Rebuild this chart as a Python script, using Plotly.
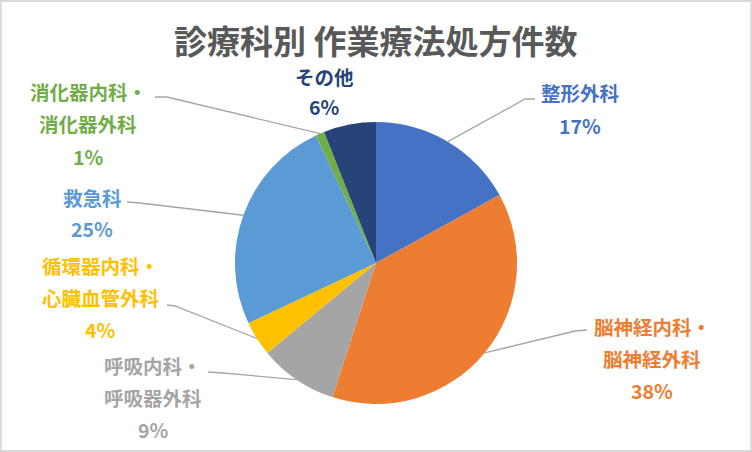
import math
import plotly.graph_objects as go

# ---- data ----
categories = ["整形外科", "脳神経内科・脳神経外科", "呼吸内科・呼吸器外科",
              "循環器内科・心臓血管外科", "救急科", "消化器内科・消化器外科", "その他"]
label_lines = [["整形外科"], ["脳神経内科・", "脳神経外科"], ["呼吸内科・", "呼吸器外科"],
               ["循環器内科・", "心臓血管外科"], ["救急科"], ["消化器内科・", "消化器外科"], ["その他"]]
percent_values = [17, 38, 9, 4, 25, 1, 6]
colors = ["#4472C4", "#ED7D31", "#A5A5A5", "#FFC000", "#5B9BD5", "#70AD47", "#264478"]
title_text = "診療科別 作業療法処方件数"

# ---- layout constants (pixels) ----
W, H = 752, 452
CX, CY, R = 376, 263, 141
FONT = "Noto Sans CJK JP"
LABEL_SIZE = 19.5
LINE_GAP = 32
# label block: centre x, y of first line
label_pos = [(580, 93), (652, 326), (153, 365), (100, 265), (92, 197), (88, 92), (324, 76)]
# per-label line gap override
line_gap = [LINE_GAP, LINE_GAP, LINE_GAP, LINE_GAP, LINE_GAP, LINE_GAP, 30]
# leader line start points near labels (None = no leader line)
leader_start = [[(535, 99), (525, 99)],
                [(587, 330), (575, 331)],
                [(208, 372), (223, 373)],
                [(167, 305), (175, 306)],
                [(127, 202), (140, 203)],
                [(155, 97), (167, 97)],
                None]


def px(x):
    return x / W


def py(y):
    return 1 - y / H


fig = go.Figure(go.Pie(
    labels=categories,
    values=percent_values,
    sort=False,
    direction="clockwise",
    rotation=0,
    marker=dict(colors=colors, line=dict(width=0)),
    textinfo="none",
    hoverinfo="label+percent",
    showlegend=False,
    domain=dict(x=[px(CX - R), px(CX + R)], y=[py(CY + R), py(CY - R)]),
))

total = sum(percent_values)
cum = 0
annotations = []
shapes = []
for i, v in enumerate(percent_values):
    mid = (cum + v / 2) / total * 2 * math.pi
    cum += v
    ex = CX + R * math.sin(mid)
    ey = CY - R * math.cos(mid)
    lx, ly = label_pos[i]
    lines = label_lines[i] + [f"{round(v / total * 100)}%"]
    for k, t in enumerate(lines):
        annotations.append(dict(
            x=px(lx), y=py(ly + k * line_gap[i]), xref="paper", yref="paper",
            text=f"<b>{t}</b>", showarrow=False, xanchor="center", yanchor="middle",
            font=dict(family=FONT, size=LABEL_SIZE, color=colors[i]),
        ))
    if leader_start[i]:
        pts = leader_start[i] + [(ex, ey)]
        path = "M " + " L ".join(f"{px(a):.5f},{py(b):.5f}" for a, b in pts)
        shapes.append(dict(type="path", path=path, xref="paper", yref="paper",
                           line=dict(color="#A6A6A6", width=1.3)))

annotations.append(dict(
    x=0.5, y=py(40), xref="paper", yref="paper", text=f"<b>{title_text}</b>",
    showarrow=False, xanchor="center", yanchor="middle",
    font=dict(family=FONT, size=33, color="#595959"),
))
shapes.append(dict(type="rect", xref="paper", yref="paper", x0=0.001, y0=0.002, x1=0.999, y1=0.998,
                   line=dict(color="#D9D9D9", width=2)))

fig.update_layout(
    width=W, height=H,
    margin=dict(l=0, r=0, t=0, b=0),
    paper_bgcolor="white", plot_bgcolor="white",
    annotations=annotations, shapes=shapes,
)

fig.write_html("out.html", config={"displayModeBar": False},
               post_script="document.body.style.margin='0';")
